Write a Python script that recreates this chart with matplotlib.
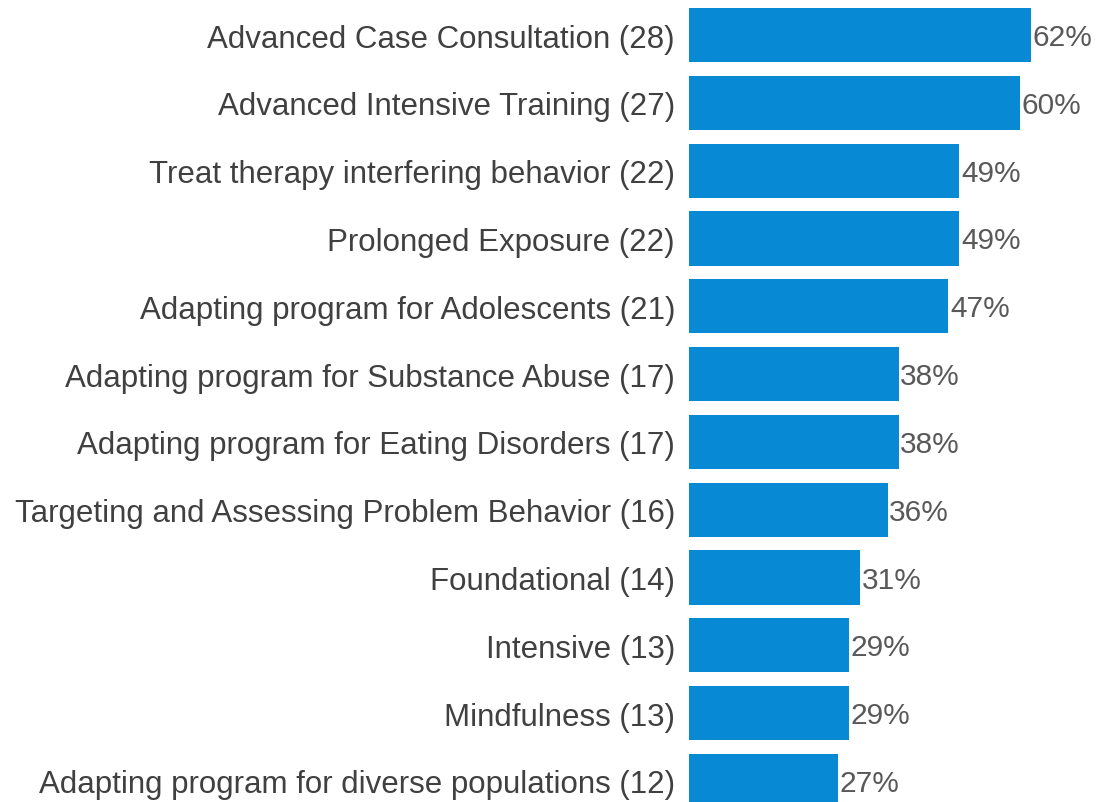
import matplotlib.pyplot as plt

categories = [
    "Advanced Case Consultation (28)",
    "Advanced Intensive Training (27)",
    "Treat therapy interfering behavior (22)",
    "Prolonged Exposure (22)",
    "Adapting program for Adolescents (21)",
    "Adapting program for Substance Abuse (17)",
    "Adapting program for Eating Disorders (17)",
    "Targeting and Assessing Problem Behavior (16)",
    "Foundational (14)",
    "Intensive (13)",
    "Mindfulness (13)",
    "Adapting program for diverse populations (12)",
]
percents = [62, 60, 49, 49, 47, 38, 38, 36, 31, 29, 29, 27]

plt.rcParams['font.family'] = ['Liberation Sans', 'DejaVu Sans']

fig = plt.figure(figsize=(10.98, 8.03), dpi=100)
ax = fig.add_axes([689 / 1098, 0, 1 - 689 / 1098, 1])

pos = list(range(len(categories)))
ax.barh(pos, percents, height=0.8, color='#0789D4')

for y, v in zip(pos, percents):
    ax.text(v + 0.3, y + 0.03, f"{v}%", va='center', ha='left', fontsize=21.5, color='#595959')

ax.set_yticks(pos)
ax.set_yticklabels(categories, fontsize=22.5, color='#404040')
ax.tick_params(axis='y', length=0, pad=10)
ax.set_xticks([])
ax.set_xlim(0, (1098 - 689) / 5.516)
ax.set_ylim(11.31, -0.531)
for s in ax.spines.values():
    s.set_visible(False)

fig.savefig("out.png", dpi=100)
